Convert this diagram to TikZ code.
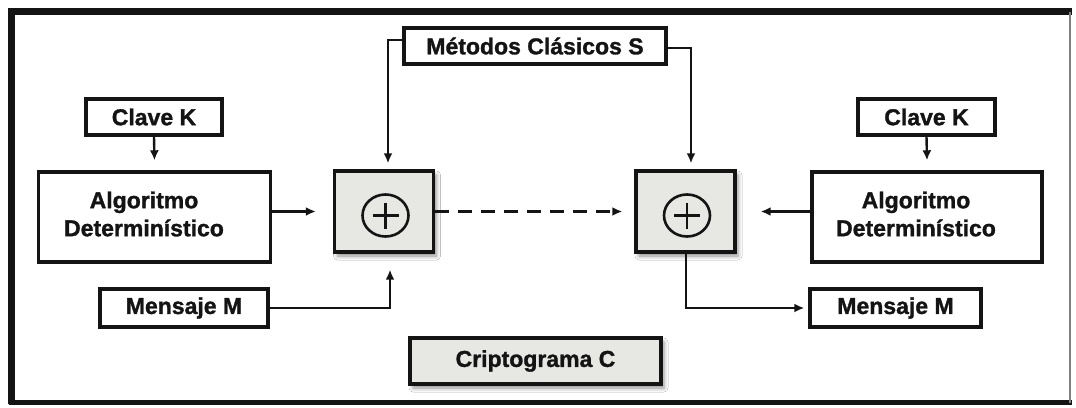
\documentclass[tikz,border=0pt]{standalone}
\usepackage{fontspec}
\setmainfont{Liberation Sans}[BoldFeatures={FakeBold=1.3}]
\usetikzlibrary{arrows.meta,shadows.blur,calc}
\definecolor{ink}{HTML}{141414}
\definecolor{boxgray}{HTML}{E7E7E4}
\tikzset{
  lbl/.style={font=\fontsize{23}{28}\selectfont\bfseries, text=ink},
  plainbox/.style={lbl, draw=ink, line width=3.4pt, fill=white, inner sep=0pt},
  graybox/.style={plainbox, fill=boxgray,
    blur shadow={shadow xshift=3pt, shadow yshift=-4pt, shadow blur radius=4pt, shadow opacity=45}},
  conn/.style={draw=ink, line width=2.4pt, -{Latex[length=10pt,width=9pt]}},
  dashconn/.style={conn, dash pattern=on 14pt off 9pt},
}
\begin{document}
\begin{tikzpicture}[x=1pt, y=-1pt]
  \useasboundingbox (0,0) rectangle (1076,407);
  \fill[white] (0,0) rectangle (1076,407);

  % frame
  \draw[ink, line width=6.5pt] (11.5,404) -- (11.5,11.5) -- (1072,11.5);
  \draw[ink, line width=4.5pt] (8.5,402.5) -- (1072,402.5);
  \draw[gray, line width=1.5pt] (1070,11.5) -- (1070,402.5);

  % boxes
  \node[plainbox, minimum width=262pt, minimum height=36pt] (met) at (535,46) {Métodos Clásicos S};
  \node[plainbox, minimum width=136pt, minimum height=36pt] (clk1) at (154,117) {Clave K};
  \node[plainbox, minimum width=137pt, minimum height=36pt] (clk2) at (926.5,117) {Clave K};
  \node[plainbox, minimum width=232pt, minimum height=90pt] (alg1) at (154.5,217) {};
  \node[lbl, align=center] (alg1t) at (144,214) {Algoritmo\\Determinístico};
  \node[plainbox, minimum width=230pt, minimum height=90pt] (alg2) at (927,217) {};
  \node[lbl, align=center] (alg2t) at (916,214) {Algoritmo\\Determinístico};
  \node[graybox, minimum width=99pt, minimum height=81pt] (xor1) at (384,211.5) {};
  \node[graybox, minimum width=99pt, minimum height=81pt] (xor2) at (685.5,211.5) {};
  \node[plainbox, minimum width=168pt, minimum height=38pt] (msg1) at (184,308) {Mensaje M};
  \node[plainbox, minimum width=171pt, minimum height=38pt] (msg2) at (895.5,308) {Mensaje M};
  \node[graybox, minimum width=251pt, minimum height=46pt] (crip) at (535.5,361) {Criptograma C};

  % circled plus symbols
  \foreach \n in {xor1,xor2}{
    \coordinate (\n c) at ($(\n.center)+(1.5,4)$);
    \draw[ink, line width=2.6pt] (\n c) ellipse [x radius=23pt, y radius=21pt];
    \draw[ink, line width=2.8pt] ($(\n c)+(-13,0)$) -- ($(\n c)+(13,0)$)
                                 ($(\n c)+(0,-13)$) -- ($(\n c)+(0,13)$);
  }

  % connectors
  \draw[conn] (met.west |- 0,40) -| ([xshift=4pt, yshift=6pt]xor1.north);
  \draw[conn] (met.east |- 0,48) -| ([xshift=5.5pt, yshift=6pt]xor2.north);
  \draw[conn] (clk1.south) -- ([yshift=10pt]alg1.north);
  \draw[conn] (clk2.south) -- ([yshift=10pt]alg2.north);
  \draw[conn] (alg1.east |- xor1.west) -- ([xshift=-17pt]xor1.west);
  \draw[conn] (alg2.west |- xor2.east) -- ([xshift=24pt]xor2.east);
  \draw[dashconn] (xor1.east) -- ([xshift=-12pt]xor2.west);
  \draw[conn] (msg1.east) -| ([xshift=6pt, yshift=-16pt]xor1.south);
  \draw[conn] ([xshift=0.5pt]xor2.south) |- ([xshift=-4pt]msg2.west);
\end{tikzpicture}
\end{document}
